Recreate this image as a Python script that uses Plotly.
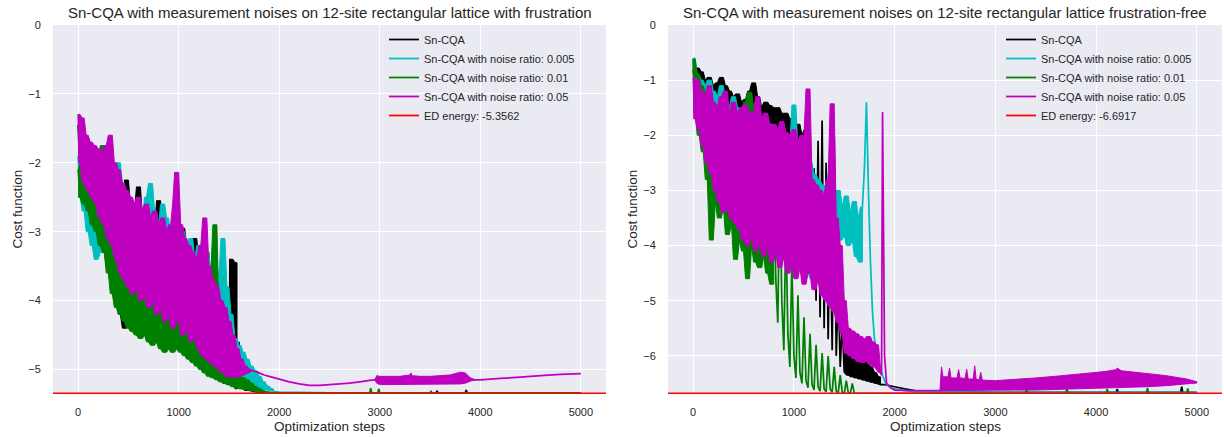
import plotly.graph_objects as go

# ---------------- data ----------------
X_RANGE = [-250, 5250]
X_TICKS = [0, 1000, 2000, 3000, 4000, 5000]
Y_TICKS_L = [0, -1, -2, -3, -4, -5]
Y_TICKS_R = [0, -1, -2, -3, -4, -5, -6]
ED_L = -5.3562
ED_R = -6.6917
SAMPLE = 20  # optimization steps between sampled points in noisy parts

NAMES = ["Sn-CQA", "Sn-CQA with noise ratio: 0.005",
         "Sn-CQA with noise ratio: 0.01", "Sn-CQA with noise ratio: 0.05"]
TITLE_L = "Sn-CQA with measurement noises on 12-site rectangular lattice with frustration"
TITLE_R = "Sn-CQA with measurement noises on 12-site rectangular lattice frustration-free"
X_LABEL = "Optimization steps"
Y_LABEL = "Cost function"

# ---- left panel (with frustration) ----
L_BLACK_NOISY = [
    -1.45, -2.2, -1.7, -2.4, -1.75, -2.5, -1.9, -2.6, -1.85, -2.7,
    -2.0, -3.0, -2.1, -3.3, -2.3, -3.5, -2.2, -3.6, -2.4, -3.9,
    -2.6, -4.2, -2.8, -4.4, -2.25, -3.9, -2.6, -3.8, -2.7, -4.0,
    -2.35, -3.9, -2.8, -4.1, -2.9, -4.0, -2.7, -4.2, -3.0, -4.1,
    -2.55, -4.3, -3.0, -4.2, -3.1, -4.4, -3.0, -4.3, -3.2, -4.5,
    -2.9, -4.4, -2.95, -4.6, -3.2, -4.5, -3.3, -4.7, -3.1, -4.6,
    -3.4, -4.8, -3.5, -4.9, -3.3, -5.0, -3.7, -5.05, -3.6, -5.1,
    -3.9, -5.15, -4.0, -5.2, -4.2, -5.22, -3.4, -4.6, -3.45, -5.28,
    -4.6]
L_BLACK_TAIL_STEPS = [1620, 1640, 1660, 1700, 1750, 1800, 2000, 2500, 3000, 3560, 3570, 3580, 3850, 3860, 3870, 5000]
L_BLACK_TAIL_VALS = [-5.28, -4.95, -5.3, -5.3, -5.32, -5.33, -5.34, -5.34, -5.34, -5.34, -5.31, -5.34, -5.34, -5.3, -5.34, -5.34]

L_CYAN_NOISY = [
    -1.9, -2.5, -1.8, -2.7, -1.75, -3.0, -1.8, -3.2, -1.9, -3.4,
    -2.1, -3.3, -2.2, -3.0, -2.4, -3.2, -2.5, -3.3, -2.3, -3.5,
    -2.0, -3.6, -2.3, -3.7, -2.6, -3.6, -2.5, -3.8, -2.7, -3.9,
    -2.6, -4.0, -2.8, -3.9, -2.5, -4.1, -2.3, -4.0, -2.7, -4.2,
    -2.9, -4.1, -2.6, -4.3, -2.8, -4.2, -3.1, -4.4, -2.9, -4.3,
    -3.2, -4.5, -3.0, -4.4, -3.3, -4.6, -3.1, -4.5, -3.4, -4.7,
    -3.2, -4.8, -3.5, -4.9, -3.3, -5.0, -3.6, -5.05, -3.4, -5.1,
    -3.7, -5.1, -3.1, -5.15, -3.8, -5.2, -4.2, -5.2, -4.55, -5.22,
    -4.65, -5.22, -4.75, -5.24, -4.85, -5.25, -4.95, -5.26, -5.02, -5.27,
    -5.1, -5.28, -5.18, -5.29, -5.24, -5.3, -5.28, -5.31]
L_CYAN_TAIL_STEPS = [1960, 2000, 2500, 5000]
L_CYAN_TAIL_VALS = [-5.32, -5.33, -5.34, -5.34]

L_GREEN_NOISY = [
    -2.1, -2.5, -2.0, -2.6, -2.1, -2.7, -2.2, -2.9, -2.3, -3.0,
    -2.0, -3.2, -1.75, -3.3, -1.9, -3.6, -2.4, -3.9, -2.5, -4.1,
    -2.7, -4.2, -2.8, -4.3, -2.9, -4.4, -3.0, -4.45, -2.8, -4.5,
    -3.1, -4.55, -3.0, -4.5, -3.2, -4.6, -3.3, -4.65, -3.1, -4.6,
    -3.4, -4.7, -3.3, -4.75, -3.5, -4.7, -3.4, -4.75, -3.6, -4.7,
    -3.5, -4.75, -3.7, -4.8, -3.6, -4.85, -3.8, -4.9, -3.7, -4.95,
    -3.9, -5.0, -3.8, -5.05, -4.0, -5.1, -3.6, -5.12, -2.9, -5.15,
    -4.2, -5.18, -4.5, -5.2, -4.8, -5.22, -5.0, -5.25, -5.12, -5.27,
    -5.1, -5.28, -5.12, -5.29, -5.15, -5.3, -5.2, -5.31, -5.25, -5.32,
    -5.28, -5.33, -5.31, -5.33, -5.33, -5.34]
L_GREEN_TAIL_STEPS = [2000, 2900, 2910, 2920, 2980, 2990, 3000, 3500, 3510, 3520, 5000]
L_GREEN_TAIL_VALS = [-5.34, -5.34, -5.27, -5.34, -5.34, -5.28, -5.34, -5.34, -5.32, -5.34, -5.34]

L_MAG_NOISY = [
    -1.3, -2.0, -1.35, -2.3, -1.6, -2.4, -1.7, -2.5, -1.75, -2.6,
    -1.8, -2.8, -1.85, -2.9, -1.75, -3.1, -1.6, -3.2, -2.0, -3.4,
    -2.1, -3.6, -2.3, -3.7, -2.4, -3.8, -2.5, -3.9, -2.6, -3.8,
    -2.5, -4.0, -2.7, -3.9, -2.6, -4.1, -2.8, -4.0, -2.7, -4.2,
    -2.9, -4.1, -2.8, -4.3, -3.0, -4.2, -2.9, -4.4, -2.6, -2.14,
    -4.3, -2.9, -4.5, -3.1, -4.4, -3.2, -4.6, -3.3, -4.5, -3.4,
    -4.7, -3.2, -4.8, -2.8, -4.85, -3.5, -4.9, -3.7, -4.95, -3.8,
    -5.0, -4.0, -5.05, -4.1, -5.1, -4.3, -5.1, -4.5, -5.12, -4.7,
    -5.1, -4.85, -5.08, -4.95, -5.05, -5.0, -5.02]
L_MAG_TAIL_STEPS = [1750, 1800, 1850, 1900, 2000, 2100, 2200, 2300, 2400, 2500, 2600, 2700, 2800, 2900, 2950,
                    3950, 4000, 4200, 4400, 4600, 4800, 5000]
L_MAG_TAIL_VALS = [-5.02, -5.05, -5.08, -5.1, -5.14, -5.18, -5.21, -5.23, -5.23, -5.22, -5.21, -5.2, -5.18, -5.16, -5.15,
                   -5.15, -5.15, -5.13, -5.11, -5.09, -5.07, -5.06]
L_MAG_BAND_STEPS = [2950, 2970, 3000, 3100, 3200, 3300, 3310, 3320, 3400, 3500, 3600, 3700, 3800, 3850, 3900, 3950]
L_MAG_BAND_TOP = [-5.15, -5.09, -5.1, -5.1, -5.1, -5.08, -5.05, -5.09, -5.1, -5.1, -5.09, -5.08, -5.04, -5.05, -5.12, -5.15]
L_MAG_BAND_BOT = [-5.15, -5.2, -5.22, -5.22, -5.22, -5.22, -5.22, -5.22, -5.22, -5.22, -5.21, -5.21, -5.21, -5.2, -5.17, -5.15]
# step ranges in which each curve looks like a dense (solid) noise band
L_BAND_RANGES = [[(0, 1500), (1500, 1580)], [(0, 1940)], [(0, 1900)], [(0, 1720)]]

# ---- right panel (frustration-free) ----
R_BLACK_NOISY = [
    -0.8, -1.3, -0.78, -1.5, -0.85, -1.4, -1.0, -1.7, -0.95, -1.6,
    -1.1, -1.9, -1.05, -1.8, -0.95, -2.0, -1.1, -2.1, -1.2, -2.2,
    -1.3, -2.3, -1.25, -2.4, -1.4, -2.5, -1.35, -2.6, -1.2, -2.4,
    -1.05, -2.7, -1.3, -2.8, -1.5, -2.9, -1.4, -2.7, -1.46, -3.0,
    -1.5, -3.1, -1.5, -3.2, -1.6, -3.3, -1.6, -3.4, -1.7, -3.5,
    -1.9, -3.6, -1.8, -3.7, -2.0, -3.8, -1.9, -4.0, -1.91, -4.5,
    -2.6, -5.0, -2.1, -5.3, -1.73, -5.5, -2.5, -5.7, -3.5, -5.9,
    -2.03, -6.0, -4.8, -6.2, -5.4, -6.3, -5.8, -6.35, -5.9, -6.38,
    -5.95, -6.4, -6.0, -6.42, -6.05, -6.44, -6.1, -6.46, -6.2, -6.48,
    -6.3, -6.5, -6.38, -6.52]
R_BLACK_TAIL_STEPS = [1900, 2000, 2100, 2200, 2400, 3000, 4200, 4210, 4220, 4840, 4850, 4860, 5000]
R_BLACK_TAIL_VALS = [-6.52, -6.56, -6.6, -6.63, -6.65, -6.66, -6.66, -6.6, -6.66, -6.66, -6.56, -6.66, -6.66]

R_CYAN_NOISY = [
    -0.6, -1.5, -0.9, -1.8, -1.0, -2.1, -1.1, -2.3, -1.0, -2.6,
    -1.2, -2.8, -1.3, -2.5, -1.1, -2.7, -1.4, -2.9, -1.5, -2.6,
    -1.3, -2.8, -1.5, -3.0, -1.6, -2.9, -1.45, -3.1, -1.7, -3.2,
    -1.6, -3.3, -1.8, -3.2, -1.7, -3.4, -1.9, -3.5, -1.8, -3.6,
    -2.0, -3.7, -1.9, -3.8, -2.1, -3.9, -2.3, -4.0, -2.2, -4.1,
    -1.45, -4.2, -2.3, -4.3, -2.4, -4.4, -2.6, -4.5, -2.5, -4.6,
    -2.7, -4.5, -2.8, -4.4, -2.9, -4.3, -3.0, -4.2, -2.7, -4.1,
    -3.2, -4.0, -3.0, -3.9, -3.3, -3.8, -3.1, -4.0, -3.4, -3.9,
    -3.2, -4.2, -3.5, -4.3, -3.3, -2.6, -1.4, -3.0, -4.3, -5.2,
    -5.7, -5.9, -6.1, -6.25, -6.35, -6.45, -6.52]
R_CYAN_TAIL_STEPS = [1960, 2000, 2100, 2200, 3000, 5000]
R_CYAN_TAIL_VALS = [-6.57, -6.6, -6.63, -6.65, -6.66, -6.66]

R_GREEN_NOISY = [
    -0.62, -1.6, -0.9, -2.0, -1.1, -2.3, -1.2, -2.8, -1.3, -3.9,
    -1.5, -3.2, -1.6, -3.5, -1.4, -3.3, -1.7, -3.8, -1.8, -3.6,
    -1.9, -4.25, -2.0, -3.9, -1.6, -4.1, -1.4, -4.6, -1.22, -4.0,
    -1.5, -4.3, -1.37, -4.4, -2.0, -4.2, -2.2, -4.5, -2.4, -4.7,
    -2.3, -4.6, -5.4, -2.8, -5.0, -5.9, -3.6, -5.6, -6.2, -4.3,
    -6.0, -6.4, -4.9, -6.3, -6.5, -5.3, -6.45, -6.58, -5.6, -6.52,
    -6.62, -5.8, -6.56, -6.64, -5.95, -6.6, -6.65, -6.0, -6.6, -6.66,
    -6.2, -6.64, -6.67, -6.35, -6.66, -6.68, -6.45, -6.67, -6.68, -6.5,
    -6.68]
R_GREEN_TAIL_STEPS = [2000, 3000, 3300, 3310, 3320, 3700, 3710, 3720, 4100, 4110, 4120, 4500, 4510, 4520, 4900, 4910, 4920, 5000]
R_GREEN_TAIL_VALS = [-6.68, -6.68, -6.68, -6.6, -6.68, -6.68, -6.59, -6.68, -6.68, -6.6, -6.68, -6.68, -6.58, -6.68, -6.68, -6.59, -6.68, -6.68]

R_MAG_NOISY = [
    -0.95, -1.7, -1.0, -1.9, -1.2, -2.2, -1.3, -2.5, -1.1, -2.7,
    -1.4, -3.0, -1.5, -3.2, -1.3, -3.4, -1.2, -3.3, -1.6, -3.5,
    -1.4, -3.6, -1.6, -3.7, -1.5, -3.9, -1.45, -4.0, -1.6, -3.8,
    -1.6, -4.1, -1.3, -3.9, -1.7, -4.2, -1.6, -4.0, -1.8, -4.3,
    -1.8, -4.1, -1.9, -4.4, -1.75, -4.2, -1.95, -4.5, -2.0, -4.3,
    -1.9, -4.6, -2.1, -4.4, -2.0, -4.7, -2.2, -1.16, -4.5, -2.8,
    -4.8, -2.9, -4.6, -3.0, -4.9, -3.1, -5.0, -2.8, -5.1, -1.43,
    -5.2, -3.5, -5.4, -4.0, -5.6, -5.0, -5.95, -5.5, -6.0, -5.55,
    -6.05, -5.6, -6.1, -5.65, -6.12, -5.7, -6.1, -5.65, -6.15, -5.75,
    -6.2, -5.8, -6.25, -6.3]
R_MAG_TAIL_STEPS = [1870, 1880, 1900, 1920, 1960, 2000, 2200, 2440, 2450, 5000]
R_MAG_TAIL_VALS = [-6.35, -1.58, -6.0, -6.5, -6.58, -6.62, -6.63, -6.63, -6.63, -6.48]
R_MAG_BAND_STEPS = [2450, 2465, 2480, 2530, 2545, 2560, 2620, 2635, 2650, 2700, 2715, 2730, 2780, 2795, 2810,
                    2840, 2855, 2870, 3000, 3200, 3400, 3600, 3800, 4000, 4100, 4150, 4200, 4210, 4250, 4300,
                    4500, 4700, 4900, 5000]
R_MAG_BAND_TOP = [-6.63, -6.2, -6.38, -6.38, -6.22, -6.4, -6.4, -6.25, -6.4, -6.41, -6.24, -6.42, -6.42, -6.18, -6.43,
                  -6.43, -6.3, -6.44, -6.45, -6.43, -6.4, -6.37, -6.34, -6.3, -6.28, -6.26, -6.25, -6.22, -6.27, -6.28,
                  -6.32, -6.36, -6.42, -6.47]
R_MAG_BAND_BOT = [-6.63, -6.63, -6.63, -6.63, -6.63, -6.63, -6.63, -6.63, -6.63, -6.63, -6.63, -6.63, -6.63, -6.63, -6.63,
                  -6.63, -6.63, -6.63, -6.62, -6.62, -6.62, -6.61, -6.6, -6.59, -6.59, -6.58, -6.58, -6.58, -6.58, -6.57,
                  -6.56, -6.54, -6.51, -6.49]
R_BAND_RANGES = [[(0, 1140), (1500, 1860)], [(0, 1680)], [(0, 800)], [(0, 1860)]]

# ---------------- style ----------------
FONT = "Liberation Sans, Arial, sans-serif"
TEXT = "#262626"
BG = "#EAEAF2"
COLORS = ["#000000", "#00BFBF", "#008000", "#BF00BF"]
ED_COLOR = "#FF0000"
LW = 1.75
ED_LW = 3  # drawn on the lower axis edge, so half of it is clipped
W, H = 1224, 437
LEFT_PX = (53, 606)
RIGHT_PX = (668, 1222)
TOP_PX, BOTTOM_PX = 25, 394


def series(noisy, tail_steps, tail_vals):
    steps = [i * SAMPLE for i in range(len(noisy))] + list(tail_steps)
    vals = list(noisy) + list(tail_vals)
    assert len(steps) == len(vals)
    return steps, vals


def noisy_band(noisy, start, stop):
    """Solid band spanned by the sampled highs and lows of a noisy curve between two steps."""
    i0 = start // SAMPLE
    i1 = min(len(noisy), stop // SAMPLE + 1)
    idx = list(range(i0, i1))
    hi = [max(noisy[max(i0, i - 1):min(i1, i + 2)]) for i in idx]
    lo = [min(noisy[max(i0, i - 1):min(i1, i + 2)]) for i in idx]
    steps = [i * SAMPLE for i in idx]
    return steps + steps[::-1], hi + lo[::-1]


fig = go.Figure()

panels = [
    ("x", "y", "legend", ED_L,
     [(L_BLACK_NOISY, L_BLACK_TAIL_STEPS, L_BLACK_TAIL_VALS),
      (L_CYAN_NOISY, L_CYAN_TAIL_STEPS, L_CYAN_TAIL_VALS),
      (L_GREEN_NOISY, L_GREEN_TAIL_STEPS, L_GREEN_TAIL_VALS),
      (L_MAG_NOISY, L_MAG_TAIL_STEPS, L_MAG_TAIL_VALS)],
     L_BAND_RANGES,
     (L_MAG_BAND_STEPS, L_MAG_BAND_TOP, L_MAG_BAND_BOT)),
    ("x2", "y2", "legend2", ED_R,
     [(R_BLACK_NOISY, R_BLACK_TAIL_STEPS, R_BLACK_TAIL_VALS),
      (R_CYAN_NOISY, R_CYAN_TAIL_STEPS, R_CYAN_TAIL_VALS),
      (R_GREEN_NOISY, R_GREEN_TAIL_STEPS, R_GREEN_TAIL_VALS),
      (R_MAG_NOISY, R_MAG_TAIL_STEPS, R_MAG_TAIL_VALS)],
     R_BAND_RANGES,
     (R_MAG_BAND_STEPS, R_MAG_BAND_TOP, R_MAG_BAND_BOT)),
]

for xa, ya, leg, ed, sers, ranges, band in panels:
    for name, color, (noisy, ts, tv), rngs in zip(NAMES, COLORS, sers, ranges):
        for start, stop in rngs:
            bx, by = noisy_band(noisy, start, stop)
            fig.add_trace(go.Scatter(x=bx, y=by, mode="lines", fill="toself", fillcolor=color,
                                     line=dict(color=color, width=1, simplify=False),
                                     xaxis=xa, yaxis=ya, showlegend=False, hoverinfo="skip"))
        sx, sy = series(noisy, ts, tv)
        fig.add_trace(go.Scatter(x=sx, y=sy, mode="lines", name=name, xaxis=xa, yaxis=ya, legend=leg,
                                 line=dict(color=color, width=LW, simplify=False)))
    bs, bt, bb = band
    assert len(bs) == len(bt) == len(bb)
    fig.add_trace(go.Scatter(x=list(bs) + list(bs)[::-1], y=list(bt) + list(bb)[::-1], mode="lines",
                             fill="toself", fillcolor=COLORS[3], line=dict(color=COLORS[3], width=1),
                             xaxis=xa, yaxis=ya, showlegend=False, hoverinfo="skip"))
    # visible ED line (thick, half clipped by the axis edge) ...
    fig.add_trace(go.Scatter(x=X_RANGE, y=[ed, ed], mode="lines", showlegend=False, hoverinfo="skip",
                             xaxis=xa, yaxis=ya, line=dict(color=ED_COLOR, width=ED_LW)))
    # ... and the same line at normal width for the legend entry
    fig.add_trace(go.Scatter(x=X_RANGE, y=[ed, ed], mode="lines", name=f"ED energy: {ed}",
                             xaxis=xa, yaxis=ya, legend=leg, line=dict(color=ED_COLOR, width=LW)))

ydom = [1 - BOTTOM_PX / H, 1 - TOP_PX / H]
axis_common = dict(showgrid=True, gridcolor="white", gridwidth=1, zeroline=False, showline=False,
                   ticks="outside", tickcolor="rgba(0,0,0,0)",
                   tickfont=dict(family=FONT, size=11, color=TEXT), automargin=False)


def ann(text, xpx, ypx, size, angle=0):
    return dict(text=text, x=xpx / W, y=1 - ypx / H, xref="paper", yref="paper", showarrow=False,
                xanchor="center", yanchor="middle", textangle=angle,
                font=dict(family=FONT, size=size, color=TEXT))


legend_common = dict(xanchor="left", yanchor="top", bgcolor="rgba(0,0,0,0)", borderwidth=0,
                     font=dict(family=FONT, size=11, color=TEXT), tracegroupgap=0)

fig.update_layout(
    width=W, height=H, margin=dict(l=0, r=0, t=0, b=0), autosize=False,
    paper_bgcolor="white", plot_bgcolor=BG,
    font=dict(family=FONT, color=TEXT, size=11),
    xaxis=dict(domain=[LEFT_PX[0] / W, LEFT_PX[1] / W], range=X_RANGE, tickvals=X_TICKS, anchor="y",
               ticklen=8, **axis_common),
    yaxis=dict(domain=ydom, range=[ED_L, 0], tickvals=Y_TICKS_L, anchor="x", ticklen=9, **axis_common),
    xaxis2=dict(domain=[RIGHT_PX[0] / W, RIGHT_PX[1] / W], range=X_RANGE, tickvals=X_TICKS, anchor="y2",
                ticklen=8, **axis_common),
    yaxis2=dict(domain=ydom, range=[ED_R, 0], tickvals=Y_TICKS_R, anchor="x2", ticklen=9, **axis_common),
    legend=dict(x=384 / W, y=1 - 25 / H, **legend_common),
    legend2=dict(x=1001 / W, y=1 - 25 / H, **legend_common),
    annotations=[
        ann(TITLE_L, (LEFT_PX[0] + LEFT_PX[1]) / 2, 12, 15),
        ann(TITLE_R, (RIGHT_PX[0] + RIGHT_PX[1]) / 2, 12, 15),
        ann(X_LABEL, (LEFT_PX[0] + LEFT_PX[1]) / 2, 426, 13.5),
        ann(X_LABEL, (RIGHT_PX[0] + RIGHT_PX[1]) / 2, 426, 13.5),
        ann(Y_LABEL, 17, (TOP_PX + BOTTOM_PX) / 2, 13.5, -90),
        ann(Y_LABEL, 632, (TOP_PX + BOTTOM_PX) / 2, 13.5, -90),
    ],
)

fig.write_html("out.html")
